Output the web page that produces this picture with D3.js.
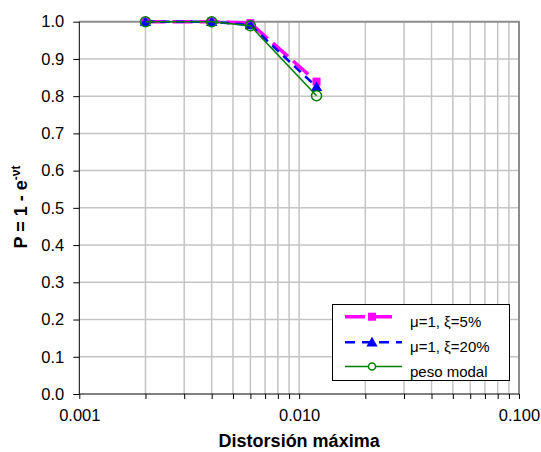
<!DOCTYPE html>
<html>
<head>
<meta charset="utf-8">
<script src="https://cdn.jsdelivr.net/npm/d3@7"></script>
<style>
  body { margin: 0; background: #fff; }
  svg { display: block; font-family: "Liberation Sans", Arial, sans-serif; }
</style>
</head>
<body>
<svg id="chart" width="541" height="452"></svg>
<script>
// ---- data ----
const distortion = [0.002, 0.004, 0.006, 0.012];
const seriesNames = ["\u03bc=1, \u03be=5%", "\u03bc=1, \u03be=20%", "peso modal"];
const pXi5 = [1.0, 1.0, 0.996, 0.839];
const pXi20 = [1.0, 1.0, 0.991, 0.825];
const pModal = [1.0, 1.0, 0.989, 0.801];
const xTickValues = [0.001, 0.01, 0.1];
const xTickLabels = ["0.001", "0.010", "0.100"];
const yTickValues = [0.0, 0.1, 0.2, 0.3, 0.4, 0.5, 0.6, 0.7, 0.8, 0.9, 1.0];

const svg = d3.select("#chart");
const L = 79.3, R = 519, T = 21.7, B = 394;
const x = d3.scaleLog().domain([0.001, 0.1]).range([L, R]);
const y = d3.scaleLinear().domain([0, 1]).range([B, T]);

// minor log positions
const minor = [];
for (let d = 0.001; d < 0.1 - 1e-9; d *= 10) {
  for (let k = 1; k <= 9; k++) minor.push(+(d * k).toPrecision(3));
}
minor.push(0.1);

// grid
svg.append("g").selectAll("line.v").data(minor.filter(v => v > 0.001 && v < 0.1))
  .join("line")
  .attr("x1", d => x(d)).attr("x2", d => x(d))
  .attr("y1", T).attr("y2", B)
  .attr("stroke", "#c4c4c4").attr("stroke-width", 1.5);
svg.append("g").selectAll("line.h").data(yTickValues.filter(v => v > 0 && v < 1))
  .join("line")
  .attr("x1", L).attr("x2", R)
  .attr("y1", d => y(d)).attr("y2", d => y(d))
  .attr("stroke", "#c4c4c4").attr("stroke-width", 1.5);

// top & right borders
svg.append("line").attr("x1", L).attr("x2", R + 1).attr("y1", T).attr("y2", T)
  .attr("stroke", "#8c8c8c").attr("stroke-width", 2);
svg.append("line").attr("x1", R).attr("x2", R).attr("y1", T).attr("y2", B)
  .attr("stroke", "#8c8c8c").attr("stroke-width", 2);

// axes
const xAxis = d3.axisBottom(x).tickValues(minor).tickSize(5)
  .tickFormat(d => { const i = xTickValues.findIndex(v => Math.abs(v - d) < 1e-9); return i >= 0 ? xTickLabels[i] : ""; });
const gx = svg.append("g").attr("transform", `translate(0,${B})`).call(xAxis);
gx.select(".domain").attr("stroke", "#000").attr("d", `M${L},0H${R}`);
gx.selectAll(".tick line").attr("stroke", "#000");
gx.selectAll(".tick text").attr("font-size", 16.5).attr("fill", "#000").attr("y", 15).attr("dy", "0.71em");

const yAxis = d3.axisLeft(y).tickValues(yTickValues).tickSize(6).tickFormat(d3.format(".1f"));
const gy = svg.append("g").attr("transform", `translate(${L},0)`).call(yAxis);
gy.select(".domain").attr("stroke", "#000").attr("d", `M0,${T}V${B}`);
gy.selectAll(".tick line").attr("stroke", "#000");
gy.selectAll(".tick text").attr("font-size", 16.5).attr("fill", "#000").attr("x", -15);

// axis titles
svg.append("text").attr("x", (L + R) / 2).attr("y", 447).attr("text-anchor", "middle")
  .attr("font-size", 18).attr("font-weight", "bold").text("Distorsi\u00f3n m\u00e1xima");
const yl = svg.append("text").attr("transform", "translate(27,207) rotate(-90)")
  .attr("text-anchor", "middle").attr("font-size", 18).attr("font-weight", "bold");
yl.append("tspan").text("P = 1 - e");
yl.append("tspan").attr("font-size", 12).attr("dy", -7).text("-\u03bdt");

// series
const series = [
  { vals: pXi5, color: "#ff00ff", width: 3.5, dash: "20,7", marker: "square" },
  { vals: pXi20, color: "#0000ff", width: 2.5, dash: "9,6", marker: "triangle" },
  { vals: pModal, color: "#008000", width: 1.5, dash: null, marker: "circle" }
];
const line = d3.line().x((d, i) => x(distortion[i])).y(d => y(d));

function drawMarker(g, type, cx, cy, color, small) {
  if (type === "square") {
    const s = 8;
    g.append("rect").attr("x", cx - s / 2).attr("y", cy - s / 2).attr("width", s).attr("height", s)
      .attr("fill", color);
  } else if (type === "triangle") {
    g.append("path").attr("d", d3.symbol().type(d3.symbolTriangle).size(55)())
      .attr("transform", `translate(${cx},${cy + 1})`).attr("fill", color);
  } else {
    g.append("circle").attr("cx", cx).attr("cy", cy).attr("r", small ? 3.5 : 5)
      .attr("fill", small ? "#fff" : "none").attr("stroke", color).attr("stroke-width", 1.5);
  }
}

series.forEach(s => {
  const g = svg.append("g");
  g.append("path").datum(s.vals).attr("d", line).attr("fill", "none")
    .attr("stroke", s.color).attr("stroke-width", s.width)
    .attr("stroke-dasharray", s.dash);
  s.vals.forEach((v, i) => drawMarker(g, s.marker, x(distortion[i]), y(v), s.color, false));
});

// legend
const lg = svg.append("g");
lg.append("rect").attr("x", 332.5).attr("y", 304.5).attr("width", 177).attr("height", 76)
  .attr("fill", "#fff").attr("stroke", "#000").attr("stroke-width", 1);
const rowsY = [316.7, 342.3, 366.5];
series.forEach((s, i) => {
  const yy = rowsY[i];
  lg.append("line").attr("x1", 345).attr("x2", i === 0 ? 396 : 402).attr("y1", yy).attr("y2", yy)
    .attr("stroke", s.color).attr("stroke-width", s.width).attr("stroke-dasharray", i === 1 ? "10,7" : s.dash);
  drawMarker(lg, s.marker, 372, yy, s.color, true);
  lg.append("text").attr("x", 410).attr("y", yy + 10).attr("font-size", 15).text(seriesNames[i]);
});
</script>
</body>
</html>
